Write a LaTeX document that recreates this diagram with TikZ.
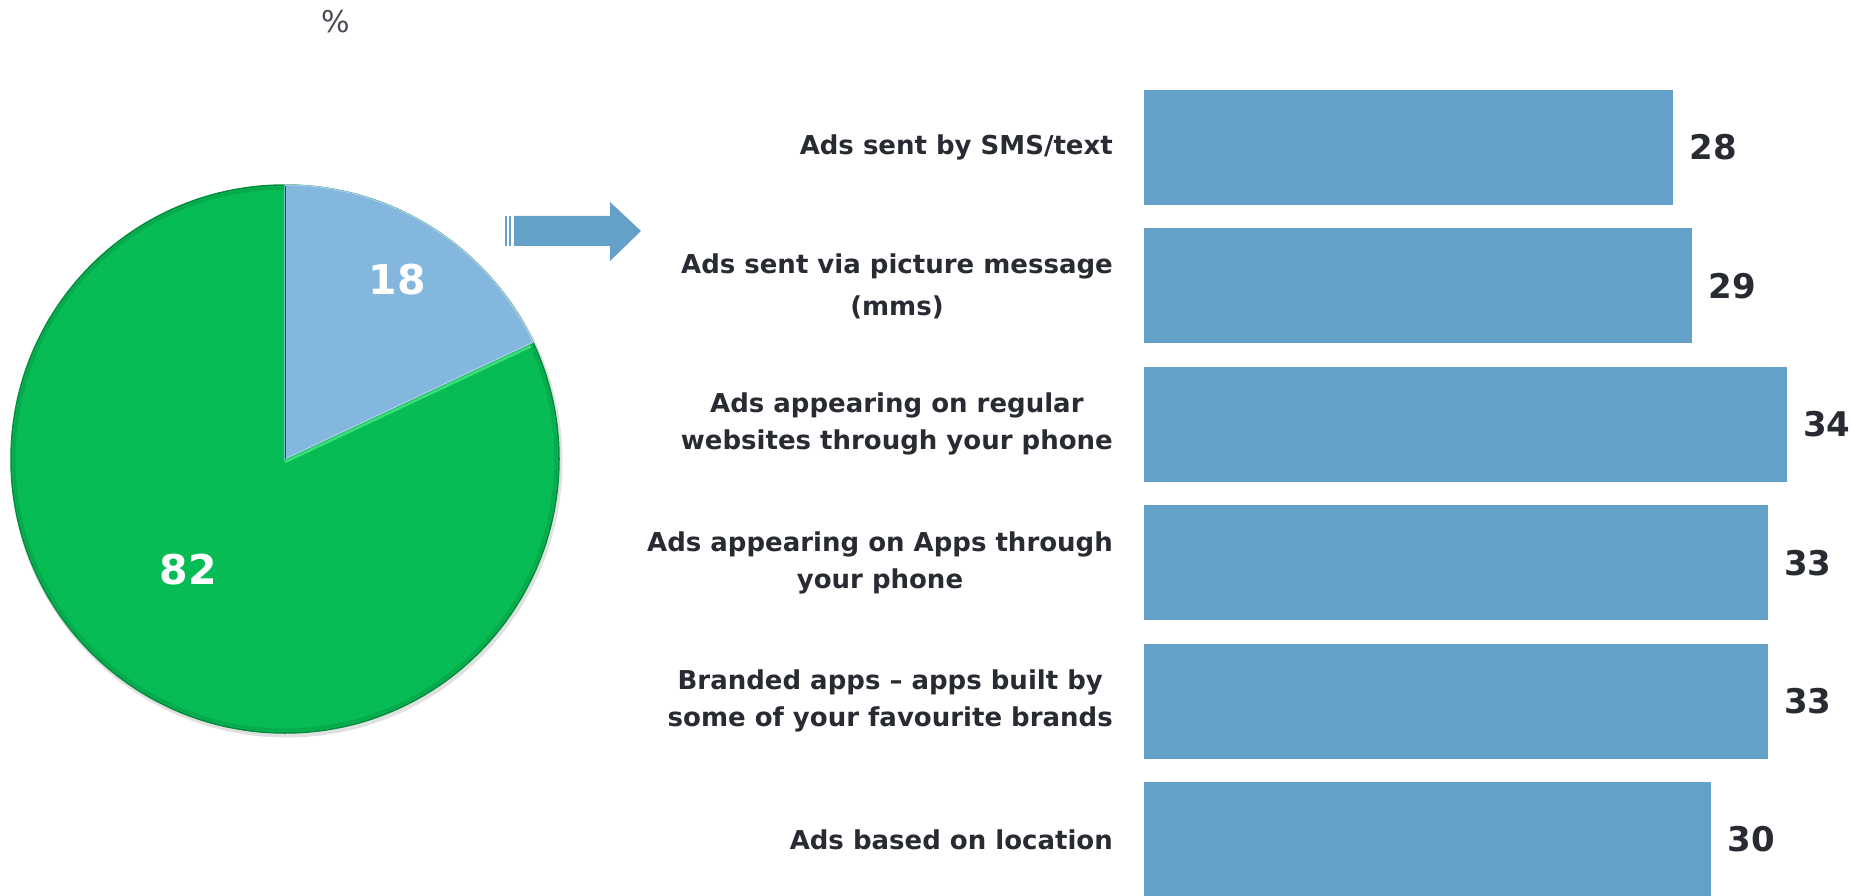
\documentclass[tikz,border=0pt]{standalone}
\usepackage{fontspec}
\setmainfont{DejaVu Sans}
\usetikzlibrary{positioning}
\definecolor{barblue}{RGB}{101,160,200}
\definecolor{pieblue}{RGB}{131,183,221}
\definecolor{piegreen}{RGB}{7,187,85}
\definecolor{rimgreen}{RGB}{4,140,62}
\definecolor{lightgreen}{RGB}{60,222,120}
\definecolor{txtgray}{RGB}{40,43,50}

\begin{document}
\begin{tikzpicture}[x=1pt,y=-1pt,node distance=31pt,
  bar/.style={rectangle,fill=barblue,inner sep=0,minimum height=115pt,anchor=west},
  cat/.style={inner sep=0,align=center,text=txtgray,font=\fontsize{26}{37}\selectfont\bfseries},
  val/.style={inner sep=0,text=txtgray,font=\fontsize{34}{40}\selectfont\bfseries},
  pie label/.style={inner sep=0,text=white,font=\fontsize{41}{48}\selectfont\bfseries}]
\useasboundingbox (0,0) rectangle (1850,896);

% Pie
  \coordinate (pc) at (285,459);
  \fill[black,opacity=.12] ([shift={(1.5,2.5)}]pc) circle (276);
  \fill[piegreen,draw=rimgreen,line width=1.5pt] (pc) circle (274);
  \draw[rimgreen,opacity=.35,line width=3pt] (pc) circle (271);
  \fill[pieblue,draw=pieblue!70!white,line width=1.2pt]
    (pc) -- ++(-90:274) arc[start angle=-90,end angle=-25.2,radius=274] -- cycle;
  \draw[lightgreen,line width=2.5pt] ([yshift=-3pt]pc) -- ++(-25.2:272);
  \draw[rimgreen!70!black,line width=1pt] (pc) -- ++(-90:273);

  \node[pie label] (p18) at (397,280) {18};
  \node[pie label] (p82) at (188,570) {82};
  \node[text=txtgray!85,font=\fontsize{30}{34}\selectfont] (pct) at (336,22) {\%};

% Arrow
  \fill[barblue] (514,216) -- (610,216) -- (610,202) -- (641,231)
    -- (610,261) -- (610,246) -- (514,246) -- cycle;
  \fill[barblue] (505,216) rectangle (507,246);
  \fill[barblue] (509.3,216) rectangle (511.3,246);

% Bars
  \node[bar,minimum width=529.2pt] (sms) at (1144,147.5) {};
  \node[cat,left=of sms] (smslab) {Ads sent by SMS/text};
  \node[val,right=16pt of sms] (smsval) {28};

  \node[bar,minimum width=548.1pt] (mms) at (1144,285.9) {};
  \node[cat,left=of mms] (mmslab) {Ads sent via picture message\\[5pt](mms)};
  \node[val,right=16pt of mms] (mmsval) {29};

  \node[bar,minimum width=642.6pt] (web) at (1144,424.3) {};
  \node[cat,left=of web] (weblab) {Ads appearing on regular\\websites through your phone};
  \node[val,right=16pt of web] (webval) {34};

  \node[bar,minimum width=623.7pt] (apps) at (1144,562.7) {};
  \node[cat,left=of apps] (appslab) {Ads appearing on Apps through\\your phone};
  \node[val,right=16pt of apps] (appsval) {33};

  \node[bar,minimum width=623.7pt] (brand) at (1144,701.1) {};
  \node[cat,left=of brand] (brandlab) {Branded apps -- apps built by\\some of your favourite brands};
  \node[val,right=16pt of brand] (brandval) {33};

  \node[bar,minimum width=567pt] (loc) at (1144,839.5) {};
  \node[cat,left=of loc] (loclab) {Ads based on location};
  \node[val,right=16pt of loc] (locval) {30};

\end{tikzpicture}
\end{document}
